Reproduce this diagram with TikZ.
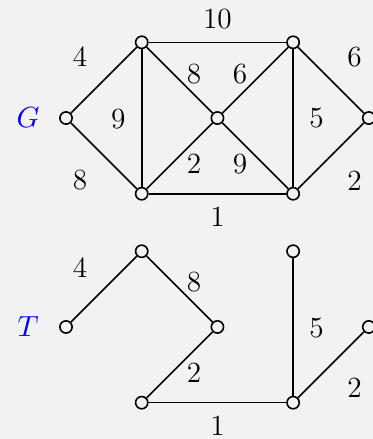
\documentclass[tikz,border=0pt]{standalone}
\usepackage{amsmath}
\usepackage{tikz}
\usetikzlibrary{positioning}
\definecolor{bgcol}{HTML}{F2F2F2}

\begin{document}
\begin{tikzpicture}[
  font=\fontsize{11pt}{13pt}\selectfont,
  vert/.style={draw, circle, line width=0.6pt, inner sep=0pt, minimum size=4.6pt},
  edg/.style={line width=0.6pt},
  wt/.style={inner sep=1pt},
  gname/.style={text=blue, inner sep=1pt},
]
% Background and page size
\fill[bgcol] (-0.872,-4.24) rectangle (4.055,1.559);
\useasboundingbox (-0.872,-4.24) rectangle (4.055,1.559);

% Graph G
\node[vert] (g0) at (0,0) {};
\node[vert] (g1) at (1,1) {};
\node[vert] (g2) at (1,-1) {};
\node[vert] (g3) at (2,0) {};
\node[vert] (g4) at (3,1) {};
\node[vert] (g5) at (3,-1) {};
\node[vert] (g6) at (4,0) {};
\node[gname] (gG) at (-0.5,0) {$G$};

\draw[edg] (g0) -- (g1);
\draw[edg] (g0) -- (g2);
\draw[edg] (g1) -- (g2);
\draw[edg] (g1) -- (g4);
\draw[edg] (g1) -- (g3);
\draw[edg] (g3) -- (g4);
\draw[edg] (g2) -- (g3);
\draw[edg] (g3) -- (g5);
\draw[edg] (g2) -- (g5);
\draw[edg] (g4) -- (g5);
\draw[edg] (g4) -- (g6);
\draw[edg] (g5) -- (g6);

% Weights of G
\node[wt] (w01) at (0.185,0.806) {4};
\node[wt] (w02) at (0.185,-0.82) {8};
\node[wt] (w12) at (0.69,-0.01) {9};
\node[wt] (w14) at (2.0,1.31) {10};
\node[wt] (w13) at (1.69,0.58) {8};
\node[wt] (w34) at (2.30,0.58) {6};
\node[wt] (w23) at (1.69,-0.61) {2};
\node[wt] (w35) at (2.30,-0.61) {9};
\node[wt] (w25) at (2.0,-1.30) {1};
\node[wt] (w45) at (3.31,0) {5};
\node[wt] (w46) at (3.81,0.81) {6};
\node[wt] (w56) at (3.81,-0.83) {2};

% Spanning tree T
\node[vert] (t0) at (0,-2.76) {};
\node[vert] (t1) at (1,-1.76) {};
\node[vert] (t2) at (2,-2.76) {};
\node[vert] (t3) at (1,-3.76) {};
\node[vert] (t4) at (3,-1.76) {};
\node[vert] (t5) at (3,-3.76) {};
\node[vert] (t6) at (4,-2.76) {};
\node[gname] (tT) at (-0.5,-2.76) {$T$};

\draw[edg] (t0) -- (t1);
\draw[edg] (t1) -- (t2);
\draw[edg] (t2) -- (t3);
\draw[edg] (t3) -- (t5);
\draw[edg] (t4) -- (t5);
\draw[edg] (t5) -- (t6);

% Weights of T
\node[wt] (u01) at (0.185,-1.97) {4};
\node[wt] (u12) at (1.69,-2.17) {8};
\node[wt] (u23) at (1.69,-3.36) {2};
\node[wt] (u35) at (2.0,-4.06) {1};
\node[wt] (u45) at (3.31,-2.78) {5};
\node[wt] (u56) at (3.81,-3.56) {2};
\end{tikzpicture}
\end{document}
